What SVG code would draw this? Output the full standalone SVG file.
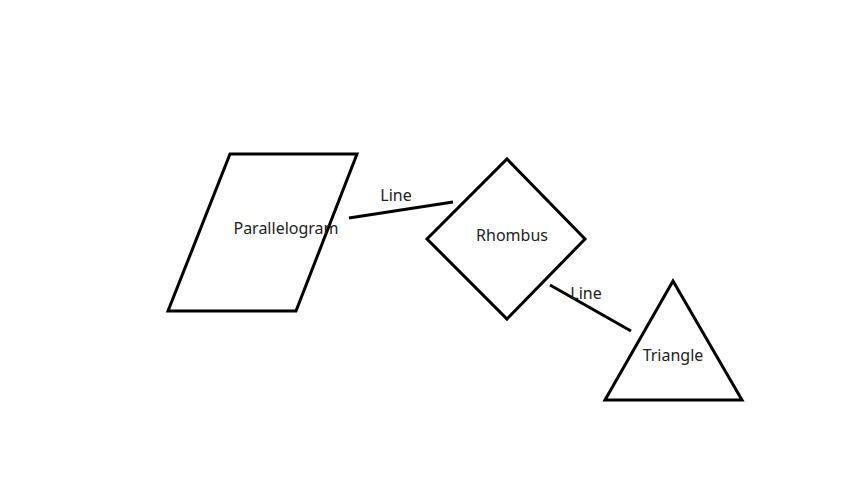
<svg xmlns="http://www.w3.org/2000/svg" width="850" height="478" viewBox="0 0 850 478">
<style>
.shape{fill:none;stroke:#000;stroke-width:3;stroke-linejoin:miter}
.conn{stroke:#000;stroke-width:3;fill:none}
text{font-family:"Noto Sans","DejaVu Sans",sans-serif;font-size:16px;fill:#222;text-anchor:middle;dominant-baseline:central}
</style>
<rect width="850" height="478" fill="#fff"/>
<g id="connectors">
<line class="conn" x1="349" y1="218" x2="453" y2="202"/>
<text x="396" y="195">Line</text>
<line class="conn" x1="550" y1="285" x2="631" y2="331"/>
<text x="586" y="293">Line</text>
</g>
<g id="parallelogram">
<polygon class="shape" points="230,154 357,154 296,311 168,311"/>
<text x="286" y="228">Parallelogram</text>
</g>
<g id="rhombus">
<polygon class="shape" points="507,159 585,239 507,319 427,239"/>
<text x="512" y="235">Rhombus</text>
</g>
<g id="triangle">
<polygon class="shape" points="673,281 742,400 605,400"/>
<text x="673" y="355">Triangle</text>
</g>
</svg>
